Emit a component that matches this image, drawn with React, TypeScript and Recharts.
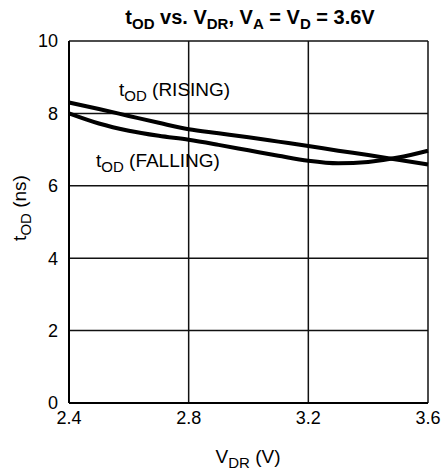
import React from 'react';
import { LineChart, Line, XAxis, YAxis, CartesianGrid } from 'recharts';

// V_DR sweep (V)
const vdr = [2.4, 2.5, 2.6, 2.7, 2.8, 2.9, 3.0, 3.1, 3.2, 3.3, 3.4, 3.5, 3.6];
// tOD values (ns)
const rising = [8.3, 8.12, 7.93, 7.74, 7.56, 7.45, 7.34, 7.22, 7.1, 6.97, 6.85, 6.72, 6.59];
const falling = [8.0, 7.72, 7.52, 7.38, 7.27, 7.13, 6.98, 6.83, 6.69, 6.62, 6.66, 6.78, 6.97];

const xTicks = [2.4, 2.8, 3.2, 3.6];
const yTicks = [0, 2, 4, 6, 8, 10];

const data = vdr.map((v, i) => ({ v, rising: rising[i], falling: falling[i] }));

const FONT = '"Liberation Sans", Arial, sans-serif';

// text pieces: [string, isSubscript]
type Piece = [string, boolean];
const SubText = ({ parts, sub }: { parts: Piece[]; sub: number }) => {
  let low = false;
  return (
    <>
      {parts.map(([s, isSub], i) => {
        const dy = isSub && !low ? 5 : !isSub && low ? -5 : 0;
        low = isSub;
        return (
          <tspan key={i} dy={dy} fontSize={isSub ? sub : undefined}>
            {s}
          </tspan>
        );
      })}
    </>
  );
};

export default function App() {
  return (
    <div style={{ position: 'absolute', left: 0, top: 0, width: 441, height: 472, background: '#fff' }}>
      <LineChart
        width={441}
        height={472}
        data={data}
        margin={{ top: 41, right: 13, left: 29, bottom: 39 }}
        style={{ fontFamily: FONT }}
      >
        <CartesianGrid stroke="#111" strokeWidth={1.5} horizontalValues={yTicks} verticalValues={xTicks} />
        <XAxis
          dataKey="v"
          type="number"
          domain={[2.4, 3.6]}
          ticks={xTicks}
          tickFormatter={(t: number) => t.toFixed(1)}
          axisLine={{ stroke: '#000', strokeWidth: 2 }}
          tickLine={false}
          tickSize={0}
          tickMargin={8}
          height={30}
          tick={{ fill: '#000', fontSize: 18, fontFamily: FONT }}
        />
        <YAxis
          type="number"
          domain={[0, 10]}
          ticks={yTicks}
          axisLine={{ stroke: '#000', strokeWidth: 2 }}
          tickLine={false}
          tickSize={0}
          tickMargin={11}
          width={40}
          tick={{ fill: '#000', fontSize: 18, fontFamily: FONT }}
        />
        <Line dataKey="rising" type="monotone" stroke="#000" strokeWidth={4} dot={false} isAnimationActive={false} />
        <Line dataKey="falling" type="monotone" stroke="#000" strokeWidth={4} dot={false} isAnimationActive={false} />
      </LineChart>
      <svg
        width={441}
        height={472}
        style={{ position: 'absolute', left: 0, top: 0, pointerEvents: 'none', fontFamily: FONT }}
      >
        <text x={250} y={24} textAnchor="middle" fontSize={20} fontWeight="bold" fill="#000">
          <SubText
            sub={15}
            parts={[
              ['t', false],
              ['OD', true],
              [' vs. V', false],
              ['DR', true],
              [', V', false],
              ['A', true],
              [' = V', false],
              ['D', true],
              [' = 3.6V', false],
            ]}
          />
        </text>
        <text x={119} y={96} fontSize={19} fill="#000">
          <SubText sub={15} parts={[['t', false], ['OD', true], [' (RISING)', false]]} />
        </text>
        <text x={96} y={167} fontSize={19} fill="#000">
          <SubText sub={15} parts={[['t', false], ['OD', true], [' (FALLING)', false]]} />
        </text>
        <text x={248} y={463} textAnchor="middle" fontSize={19} fill="#000">
          <SubText sub={15} parts={[['V', false], ['DR', true], [' (V)', false]]} />
        </text>
        <text x={26} y={208} textAnchor="middle" fontSize={19} fill="#000" transform="rotate(-90 26 208)">
          <SubText sub={15} parts={[['t', false], ['OD', true], [' (ns)', false]]} />
        </text>
      </svg>
    </div>
  );
}
